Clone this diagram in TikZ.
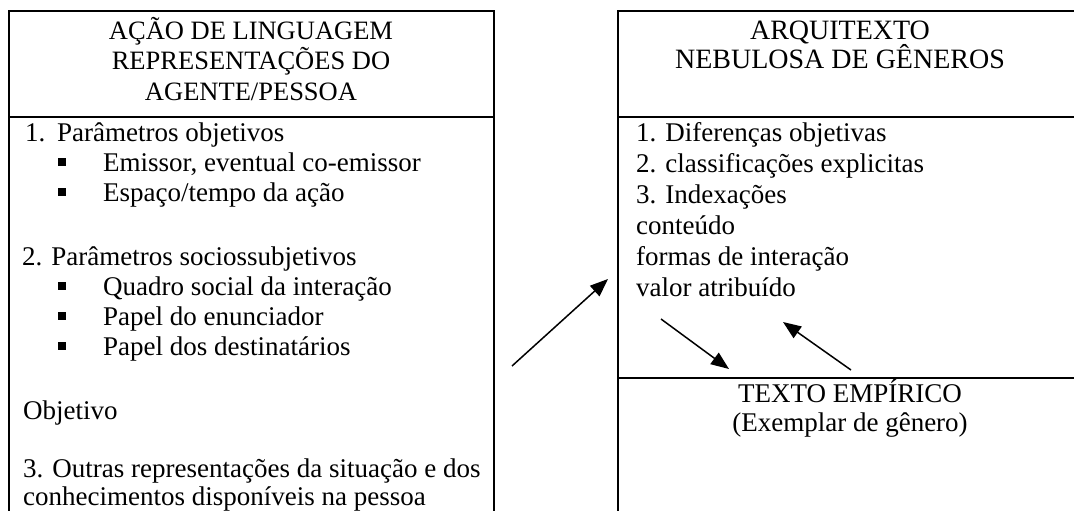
\documentclass[tikz,border=0pt]{standalone}
\usepackage{fontspec}
\setmainfont{Liberation Serif}
\usetikzlibrary{arrows.meta}
\begin{document}
\begin{tikzpicture}[x=1pt,y=-1pt,
  every node/.style={inner sep=0pt, font=\fontsize{27}{30}\selectfont},
  txt/.style={anchor=base west},
  ctr/.style={anchor=base},
  hdr/.style={anchor=base, font=\fontsize{26.5}{30}\selectfont},
  rhdr/.style={anchor=base, font=\fontsize{28}{30}\selectfont},
  frame/.style={line width=2.2pt},
  arr/.style={line width=1.5pt, -{Triangle[length=18pt,width=14pt]}},
  bul/.style={fill=black, rectangle, minimum size=8pt, inner sep=0pt}]
\useasboundingbox (0,0) rectangle (1074,511);
\clip (0,0) rectangle (1074,511);
% left box
\draw[frame] (9,11) rectangle (494,545);
\draw[frame] (9,117) -- (494,117);
% right box
\draw[frame] (618,11) rectangle (1090,545);
\draw[frame] (618,117) -- (1090,117);
\draw[frame] (618,378) -- (1090,378);
% left header
\node[hdr] (lh1) at (251,40) {AÇÃO DE LINGUAGEM};
\node[hdr] (lh2) at (251,70) {REPRESENTAÇÕES DO};
\node[hdr] (lh3) at (251,100) {AGENTE/PESSOA};
% left body
\node[txt] (n1) at (25,141) {1.};
\node[txt] (p1) at (57,141) {Parâmetros objetivos};
\node[bul] (b1) at (61.5,162) {};
\node[txt] (e1) at (103,171) {Emissor, eventual co-emissor};
\node[bul] (b2) at (61.5,192) {};
\node[txt] (e2) at (103,201) {Espaço/tempo da ação};
\node[txt] (p2) at (22,265) {2. Parâmetros sociossubjetivos};
\node[bul] (b3) at (61.5,286) {};
\node[txt] (q1) at (103,295) {Quadro social da interação};
\node[bul] (b4) at (61.5,316) {};
\node[txt] (q2) at (103,325) {Papel do enunciador};
\node[bul] (b5) at (61.5,346) {};
\node[txt] (q3) at (103,355) {Papel dos destinatários};
\node[txt] (obj) at (23,419) {Objetivo};
\node[txt] (o1) at (23,477) {3. Outras representações da situação e dos};
\node[txt] (o2) at (23,505) {conhecimentos disponíveis na pessoa};
% right header
\node[rhdr] (rh1) at (840,40) {ARQUITEXTO};
\node[rhdr] (rh2) at (840,69) {NEBULOSA DE GÊNEROS};
% right list
\node[txt] (r1) at (636,141) {1. Diferenças objetivas};
\node[txt] (r2) at (636,172) {2. classificações explicitas};
\node[txt] (r3) at (636,203) {3. Indexações};
\node[txt] (r4) at (636,234) {conteúdo};
\node[txt] (r5) at (636,265) {formas de interação};
\node[txt] (r6) at (636,296) {valor atribuído};
% texto empirico
\node[ctr] (t1) at (850,402) {TEXTO EMPÍRICO};
\node[ctr] (t2) at (850,431) {(Exemplar de gênero)};
% arrows
\coordinate (a1s) at (512,366);
\coordinate (a1e) at (608,279);
\coordinate (a2s) at (661,319);
\coordinate (a2e) at (729,369);
\coordinate (a3s) at (851,370);
\coordinate (a3e) at (783,322);
\draw[arr] (a1s) -- (a1e);
\draw[arr] (a2s) -- (a2e);
\draw[arr] (a3s) -- (a3e);
\end{tikzpicture}
\end{document}
